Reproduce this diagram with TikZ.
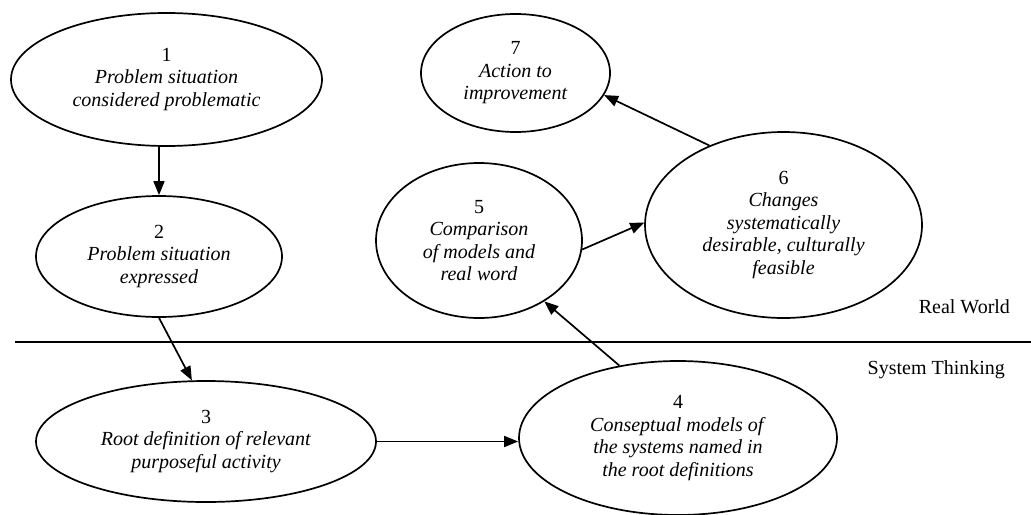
\documentclass[tikz,border=0pt]{standalone}
\usepackage{fontspec}
\setmainfont{Liberation Serif}
\usetikzlibrary{shapes.geometric,arrows.meta}
\begin{document}
\begin{tikzpicture}[x=0.5pt,y=-0.5pt,
  every node/.style={font=\fontsize{10pt}{11.25pt}\selectfont},
  stage/.style={draw, line width=0.85pt, ellipse, inner sep=0pt, align=center},
  arr/.style={line width=0.85pt, -{Triangle[length=7pt,width=5.5pt]}},
  sep/.style={line width=0.85pt},
  region/.style={anchor=base east}]
\useasboundingbox (0,0) rectangle (1031,514);
\node[stage, minimum width=155.5pt, minimum height=66.5pt] (e1) at (166.5,79.5)
  {1\\\textit{Problem situation}\\\textit{considered problematic}};
\node[stage, minimum width=123pt, minimum height=60.5pt] (e2) at (159,256.5)
  {2\\\textit{Problem situation}\\\textit{expressed}};
\node[stage, minimum width=170pt, minimum height=60.5pt] (e3) at (206,441.5)
  {3\\\textit{Root definition of relevant}\\\textit{purposeful activity}};
\node[stage, minimum width=159pt, minimum height=77pt] (e4) at (678,438)
  {4\\\textit{Conseptual models of}\\\textit{the systems named in}\\\textit{the root definitions}};
\node[stage, minimum width=103pt, minimum height=77.5pt] (e5) at (479,240.5)
  {5\\\textit{Comparison}\\\textit{of models and}\\\textit{real word}};
\node[stage, minimum width=138.5pt, minimum height=93pt] (e6) at (783.5,225)
  {6\\\textit{Changes}\\\textit{systematically}\\\textit{desirable, culturally}\\\textit{feasible}};
\node[stage, minimum width=94.5pt, minimum height=59pt] (e7) at (515.5,73)
  {7\\\textit{Action to}\\\textit{improvement}};
\coordinate (L) at (15,342);
\coordinate (R) at (1031,342);
\draw[sep] (L) -- (R);
\node[region] (rw) at (1017,313.5) {Real World};
\node[region] (st) at (1012,374.5) {System Thinking};
\draw[arr] (e1.south -| e2.north) -- (e2.north);
\draw[arr] (e2.south) -- (e3.103);
\draw[arr] (e3.east) -- (e4.west |- e3.east);
\draw[arr] (e4.129.6) -- (e5.317);
\draw[arr] (e5.355.3) -- (e6.179);
\draw[arr] (e6.133.7) -- (e7.346.3);
\end{tikzpicture}
\end{document}
